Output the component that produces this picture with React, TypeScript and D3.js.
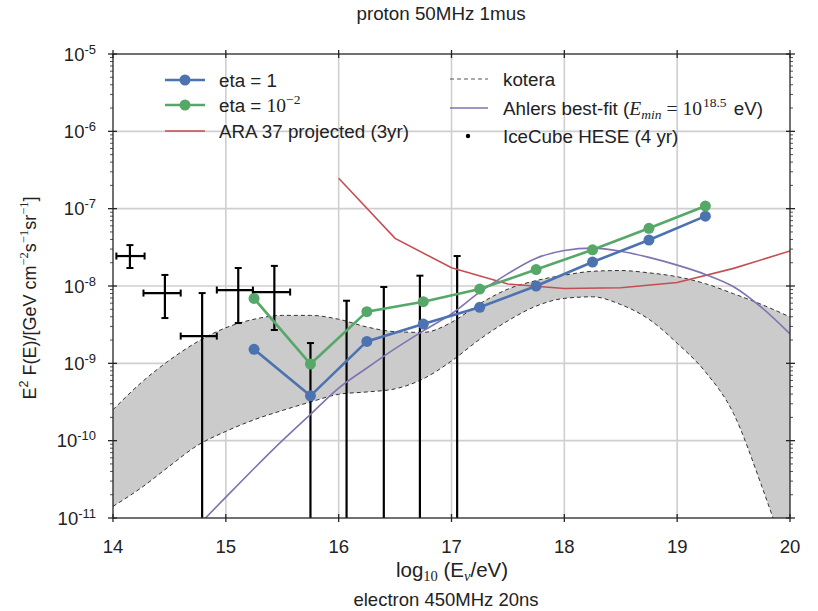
import React from "react";
import * as d3 from "d3";

// ---------- data ----------
const etaX = [15.25, 15.75, 16.25, 16.75, 17.25, 17.75, 18.25, 18.75, 19.25];
const eta1 = [1.52e-9, 3.8e-10, 1.92e-9, 3.22e-9, 5.3e-9, 1.0e-8, 2.04e-8, 3.93e-8, 8.0e-8];
const eta2 = [6.9e-9, 9.8e-10, 4.66e-9, 6.27e-9, 9.14e-9, 1.63e-8, 2.94e-8, 5.57e-8, 1.08e-7];

const araX = [16.0, 16.5, 17.0, 17.5, 18.0, 18.5, 19.0, 19.5, 20.0];
const araY = [2.47e-7, 4.13e-8, 1.72e-8, 1.06e-8, 9.3e-9, 9.5e-9, 1.11e-8, 1.69e-8, 2.84e-8];

const koteraX = [14.0, 14.25, 14.5, 14.75, 15.0, 15.25, 15.5, 15.75, 16.0, 16.25, 16.5, 16.75, 17.0, 17.25, 17.5, 17.75, 18.0, 18.25, 18.5, 18.75, 19.0, 19.25, 19.5, 19.75, 20.0];
const koteraUpLog = [-9.6, -9.25, -8.96, -8.72, -8.54, -8.43, -8.38, -8.38, -8.43, -8.53, -8.59, -8.6, -8.47, -8.23, -8.04, -7.93, -7.86, -7.81, -7.8, -7.83, -7.88, -7.97, -8.1, -8.24, -8.4];
const koteraLoLog = [-10.85, -10.61, -10.33, -10.06, -9.88, -9.73, -9.61, -9.5, -9.4, -9.37, -9.33, -9.2, -8.97, -8.69, -8.45, -8.26, -8.16, -8.14, -8.24, -8.43, -8.74, -9.11, -9.65, -10.59, -11.65];

const ahlersX = [14.8, 15.0, 15.25, 15.5, 15.75, 16.0, 16.25, 16.5, 16.75, 17.0, 17.25, 17.5, 17.75, 18.0, 18.25, 18.5, 18.75, 19.0, 19.25, 19.5, 19.75, 20.0];
const ahlersLog = [-11.03, -10.73, -10.36, -10.0, -9.66, -9.32, -9.06, -8.81, -8.58, -8.36, -8.08, -7.84, -7.64, -7.54, -7.51, -7.55, -7.63, -7.73, -7.85, -8.01, -8.28, -8.62];

const heseX = [14.15, 14.46, 14.79, 15.11, 15.43, 15.75, 16.07, 16.4, 16.72, 17.05];
const heseXlo = [14.03, 14.27, 14.6, 14.92, 15.24, NaN, NaN, NaN, NaN, NaN];
const heseXhi = [14.28, 14.6, 14.92, 15.24, 15.57, NaN, NaN, NaN, NaN, NaN];
const heseY = [2.44e-8, 8.1e-9, 2.25e-9, 8.87e-9, 8.35e-9, 0, 0, 0, 0, 0];
const heseYlo = [1.71e-8, 3.85e-9, 0, 3.32e-9, 2.7e-9, 0, 0, 0, 0, 0];
const heseYhi = [3.38e-8, 1.39e-8, 8.1e-9, 1.71e-8, 1.82e-8, 1.83e-9, 6.45e-9, 9.7e-9, 1.36e-8, 2.44e-8];

const xTicks = [14, 15, 16, 17, 18, 19, 20];
const yTickExp = [-5, -6, -7, -8, -9, -10, -11];

// ---------- layout ----------
const W = 818, H = 611;
const L = 113, R = 790, T = 54, B = 518;
const x = d3.scaleLinear().domain([14, 20]).range([L, R]);
const y = d3.scaleLog().domain([1e-11, 1e-5]).range([B, T]);
const yc = (v: number) => (v <= 0 ? B + 20 : y(v));

const BLUE = "#4c72b0", GREEN = "#55a868", RED = "#c44e52", PURPLE = "#8172b2";
const GRID = "#cfcfcf", SPINE = "#262626";
const SANS = "'Liberation Sans', Arial, sans-serif";
const SERIF = "'Liberation Serif', 'DejaVu Serif', serif";

export default function App() {
  const line = d3.line<[number, number]>().x(d => d[0]).y(d => d[1]);
  const smooth = d3.line<[number, number]>().x(d => d[0]).y(d => d[1]).curve(d3.curveMonotoneX);

  const bluePts: [number, number][] = etaX.map((v, i) => [x(v), y(eta1[i])]);
  const greenPts: [number, number][] = etaX.map((v, i) => [x(v), y(eta2[i])]);
  const redPts: [number, number][] = araX.map((v, i) => [x(v), y(araY[i])]);
  const upPts: [number, number][] = koteraX.map((v, i) => [x(v), y(Math.pow(10, koteraUpLog[i]))]);
  const loPts: [number, number][] = koteraX.map((v, i) => [x(v), y(Math.pow(10, koteraLoLog[i]))]);
  const ahPts: [number, number][] = ahlersX.map((v, i) => [x(v), y(Math.pow(10, ahlersLog[i]))]);

  const area = d3.area<number>()
    .x(i => x(koteraX[i]))
    .y0(i => y(Math.pow(10, koteraLoLog[i])))
    .y1(i => y(Math.pow(10, koteraUpLog[i])))
    .curve(d3.curveMonotoneX);

  const minor: number[] = [];
  for (let e = -11; e < -5; e++) for (let k = 2; k <= 9; k++) minor.push(k * Math.pow(10, e));

  return (
    <svg width={W} height={H} style={{ display: "block", position: "absolute", left: 0, top: 0 }} fontFamily={SANS}>
      <rect x={0} y={0} width={W} height={H} fill="#fff" />
      <defs>
        <clipPath id="plot"><rect x={L} y={T} width={R - L} height={B - T} /></clipPath>
      </defs>
      {/* grid */}
      {xTicks.slice(1, -1).map(t => (
        <line key={"gx" + t} x1={x(t)} x2={x(t)} y1={T} y2={B} stroke={GRID} strokeWidth={1.6} />
      ))}
      {yTickExp.slice(1, -1).map(e => (
        <line key={"gy" + e} x1={L} x2={R} y1={y(Math.pow(10, e))} y2={y(Math.pow(10, e))} stroke={GRID} strokeWidth={1.6} />
      ))}
      <g clipPath="url(#plot)">
        <path d={area(d3.range(koteraX.length)) || ""} fill="#cbcbcb" />
        <path d={smooth(upPts) || ""} fill="none" stroke="#333" strokeWidth={1} strokeDasharray="4,3" />
        <path d={smooth(loPts) || ""} fill="none" stroke="#333" strokeWidth={1} strokeDasharray="4,3" />
        {/* HESE */}
        {heseX.map((v, i) => {
          const cx = x(v);
          const top = yc(heseYhi[i]);
          const bot = yc(heseYlo[i]);
          return (
            <g key={"h" + i} stroke="#000" strokeWidth={2.2}>
              <line x1={cx} x2={cx} y1={top} y2={bot} />
              <line x1={cx - 3.5} x2={cx + 3.5} y1={top} y2={top} strokeWidth={2} />
              {heseYlo[i] > 0 && <line x1={cx - 3.5} x2={cx + 3.5} y1={bot} y2={bot} strokeWidth={2} />}
              {heseY[i] > 0 && (
                <>
                  <line x1={x(heseXlo[i])} x2={x(heseXhi[i])} y1={y(heseY[i])} y2={y(heseY[i])} />
                  <line x1={x(heseXlo[i])} x2={x(heseXlo[i])} y1={y(heseY[i]) - 3.5} y2={y(heseY[i]) + 3.5} strokeWidth={2} />
                  <line x1={x(heseXhi[i])} x2={x(heseXhi[i])} y1={y(heseY[i]) - 3.5} y2={y(heseY[i]) + 3.5} strokeWidth={2} />
                </>
              )}
            </g>
          );
        })}
        <path d={line(redPts) || ""} fill="none" stroke={RED} strokeWidth={1.6} />
        <path d={smooth(ahPts) || ""} fill="none" stroke={PURPLE} strokeWidth={1.6} />
        <path d={line(bluePts) || ""} fill="none" stroke={BLUE} strokeWidth={2.6} />
        {bluePts.map((p, i) => <circle key={"b" + i} cx={p[0]} cy={p[1]} r={5.5} fill={BLUE} />)}
        <path d={line(greenPts) || ""} fill="none" stroke={GREEN} strokeWidth={2.6} />
        {greenPts.map((p, i) => <circle key={"g" + i} cx={p[0]} cy={p[1]} r={5.5} fill={GREEN} />)}
      </g>
      {/* spines */}
      <rect x={L} y={T} width={R - L} height={B - T} fill="none" stroke={SPINE} strokeWidth={1.3} />
      {/* x ticks */}
      {xTicks.map(t => (
        <g key={"xt" + t}>
          <line x1={x(t)} x2={x(t)} y1={B - 4} y2={B + 4} stroke={SPINE} strokeWidth={1.3} />
          <line x1={x(t)} x2={x(t)} y1={T - 4} y2={T + 4} stroke={SPINE} strokeWidth={1.3} />
          <text x={x(t)} y={553} textAnchor="middle" fontSize={18.5} fill="#222">{t}</text>
        </g>
      ))}
      {/* y ticks */}
      {yTickExp.map(e => {
        const yy = y(Math.pow(10, e));
        return (
          <g key={"yt" + e}>
            <line x1={L - 5} x2={L + 4} y1={yy} y2={yy} stroke={SPINE} strokeWidth={1.3} />
            <line x1={R - 4} x2={R + 5} y1={yy} y2={yy} stroke={SPINE} strokeWidth={1.3} />
            <text x={96} y={yy + 6.5} textAnchor="end" fontSize={18.5} fill="#222">
              10<tspan fontSize={13} dy={-7}>{e}</tspan>
            </text>
          </g>
        );
      })}
      {minor.map((v, i) => (
        <g key={"m" + i} stroke={SPINE} strokeWidth={0.8}>
          <line x1={L - 3} x2={L} y1={y(v)} y2={y(v)} />
          <line x1={R} x2={R + 3} y1={y(v)} y2={y(v)} />
        </g>
      ))}
      {/* legend */}
      <g fontSize={18.8} fill="#222">
        <line x1={165} x2={205} y1={80} y2={80} stroke={BLUE} strokeWidth={2.6} />
        <circle cx={185} cy={80} r={5.5} fill={BLUE} />
        <text x={219} y={86.5}>eta = 1</text>
        <line x1={165} x2={205} y1={105} y2={105} stroke={GREEN} strokeWidth={2.6} />
        <circle cx={185} cy={105} r={5.5} fill={GREEN} />
        <text x={219} y={111.5}>eta = <tspan fontFamily={SERIF} fontSize={19.5}>10</tspan><tspan fontFamily={SERIF} fontSize={13.5} dy={-8}>−2</tspan></text>
        <line x1={165} x2={205} y1={131} y2={131} stroke={RED} strokeWidth={1.6} />
        <text x={219} y={138}>ARA 37 projected (3yr)</text>

        <line x1={450} x2={488} y1={79} y2={79} stroke="#555" strokeWidth={1} strokeDasharray="4,3" />
        <text x={503} y={85.5}>kotera</text>
        <line x1={450} x2={488} y1={108} y2={108} stroke={PURPLE} strokeWidth={1.6} />
        <text x={503} y={114.5}>Ahlers best-fit (<tspan fontFamily={SERIF} fontStyle="italic" fontSize={19.5}>E</tspan><tspan fontFamily={SERIF} fontStyle="italic" fontSize={13.5} dy={4}>min</tspan><tspan fontFamily={SERIF} fontSize={19.5} dy={-4} dx={5}>=</tspan><tspan fontFamily={SERIF} fontSize={19.5} dx={5}>10</tspan><tspan fontFamily={SERIF} fontSize={13.5} dy={-8} dx={1}>18.5</tspan><tspan dy={8} dx={2}> eV)</tspan></text>
        <circle cx={468} cy={136} r={2.2} fill="#000" />
        <text x={503} y={143}>IceCube HESE (4 yr)</text>
      </g>
      {/* labels */}
      <text x={441} y={20} textAnchor="middle" fontSize={18.8} fill="#222">proton 50MHz 1mus</text>
      <text x={452} y={577} textAnchor="middle" fontSize={20.5} fill="#222">
        log<tspan fontFamily={SERIF} fontSize={14.5} dy={4}>10</tspan><tspan dy={-4}> (E</tspan><tspan fontFamily={SERIF} fontStyle="italic" fontSize={14.5} dy={4}>ν</tspan><tspan dy={-4}>/eV)</tspan>
      </text>
      <text x={446} y={606} textAnchor="middle" fontSize={18.5} fill="#222">electron 450MHz 20ns</text>
      <text transform="translate(36,298) rotate(-90)" textAnchor="middle" fontSize={18} fill="#222">
        E<tspan fontSize={12.5} dy={-8}>2</tspan><tspan dy={8}> F(E)/[GeV cm</tspan><tspan fontFamily={SERIF} fontSize={12.5} dy={-8}>−2</tspan><tspan dy={8}>s</tspan><tspan fontFamily={SERIF} fontSize={12.5} dy={-8}>−1</tspan><tspan dy={8}>sr</tspan><tspan fontFamily={SERIF} fontSize={12.5} dy={-8}>−1</tspan><tspan dy={8}>]</tspan>
      </text>
    </svg>
  );
}
